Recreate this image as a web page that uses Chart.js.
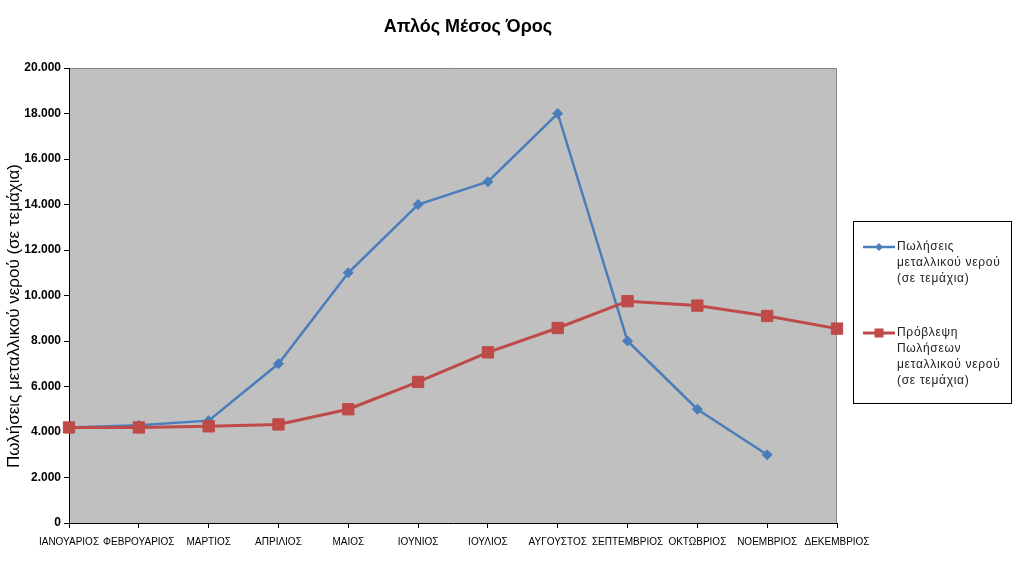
<!DOCTYPE html>
<html lang="el">
<head>
<meta charset="utf-8">
<title>Απλός Μέσος Όρος</title>
<script src="https://cdn.jsdelivr.net/npm/chart.js@4.4.1/dist/chart.umd.min.js"></script>
<style>
  html, body { margin: 0; padding: 0; background: #fff; }
  #wrap { position: relative; width: 1024px; height: 586px; }
</style>
</head>
<body>
<div id="wrap"><canvas id="salesChart" width="1024" height="586"></canvas></div>
<script>
// --- DATA ---
const months = [
  "ΙΑΝΟΥΑΡΙΟΣ", "ΦΕΒΡΟΥΑΡΙΟΣ", "ΜΑΡΤΙΟΣ", "ΑΠΡΙΛΙΟΣ", "ΜΑΙΟΣ", "ΙΟΥΝΙΟΣ",
  "ΙΟΥΛΙΟΣ", "ΑΥΓΟΥΣΤΟΣ", "ΣΕΠΤΕΜΒΡΙΟΣ", "ΟΚΤΩΒΡΙΟΣ", "ΝΟΕΜΒΡΙΟΣ", "ΔΕΚΕΜΒΡΙΟΣ"
];
const salesActual = [4200, 4300, 4500, 7000, 11000, 14000, 15000, 18000, 8000, 5000, 3000, null];
const salesForecast = [4200, 4200, 4250, 4333, 5000, 6200, 7500, 8571, 9750, 9556, 9100, 8545];
const yMin = 0;
const yMax = 20000;
const yStep = 2000;

const chartTitle = "Απλός Μέσος Όρος";
const yAxisTitle = "Πωλήσεις μεταλλικού νερού (σε τεμάχια)";
const legendLines = [
  ["Πωλήσεις", "μεταλλικού νερού", "(σε τεμάχια)"],
  ["Πρόβλεψη", "Πωλήσεων", "μεταλλικού νερού", "(σε τεμάχια)"]
];

const inkBlue = "#4a7ebb";
const inkRed = "#be4b48";
const fontFamily = "Arial, 'Liberation Sans', sans-serif";

// 20000 -> "20.000"
function formatThousands(value) {
  return String(value).replace(/\B(?=(\d{3})+(?!\d))/g, ".");
}

// grey plot area with thin frame on top/right, chart title and rotated y title
const plotFrame = {
  id: "plotFrame",
  beforeDraw(chart) {
    const { ctx, chartArea: a } = chart;
    ctx.save();
    ctx.fillStyle = "#c0c0c0";
    ctx.fillRect(a.left, a.top, a.right - a.left, a.bottom - a.top);
    ctx.strokeStyle = "#868686";
    ctx.lineWidth = 1;
    ctx.beginPath();
    ctx.moveTo(a.left, a.top + 0.5);
    ctx.lineTo(a.right - 0.5, a.top + 0.5);
    ctx.lineTo(a.right - 0.5, a.bottom);
    ctx.stroke();

    ctx.fillStyle = "#000";
    ctx.font = "bold 18px " + fontFamily;
    ctx.textAlign = "center";
    ctx.textBaseline = "middle";
    ctx.fillText(chartTitle, 468, 27);

    // y axis title sits a bit below the middle of the plot, as in the source
    ctx.translate(14, 316);
    ctx.rotate(-Math.PI / 2);
    ctx.font = "17px " + fontFamily;
    ctx.fillText(yAxisTitle, 0, 0);
    ctx.restore();
  }
};

// boxed legend on the right with wrapped labels
const boxLegend = {
  id: "boxLegend",
  afterDraw(chart) {
    const { ctx } = chart;
    const box = { x: 853.5, y: 221.5, w: 158, h: 182 };
    const entryTops = [247, 333];
    const lineGap = 16;

    ctx.save();
    ctx.strokeStyle = "#000";
    ctx.lineWidth = 1;
    ctx.strokeRect(box.x, box.y, box.w, box.h);

    chart.data.datasets.forEach((ds, i) => {
      const y = entryTops[i];
      ctx.strokeStyle = ds.borderColor;
      ctx.lineWidth = ds.borderWidth;
      ctx.beginPath();
      ctx.moveTo(863, y);
      ctx.lineTo(895, y);
      ctx.stroke();

      ctx.fillStyle = ds.pointBackgroundColor;
      ctx.beginPath();
      if (ds.pointStyle === "rectRot") {
        ctx.moveTo(879 - 4, y);
        ctx.lineTo(879, y - 4);
        ctx.lineTo(879 + 4, y);
        ctx.lineTo(879, y + 4);
        ctx.closePath();
      } else {
        ctx.rect(879 - 4.5, y - 4.5, 9, 9);
      }
      ctx.fill();

      ctx.fillStyle = "#222";
      ctx.font = "12px " + fontFamily;
      if ("letterSpacing" in ctx) ctx.letterSpacing = "0.7px";
      ctx.textAlign = "left";
      ctx.textBaseline = "middle";
      legendLines[i].forEach((line, k) => {
        ctx.fillText(line, 897, y + k * lineGap);
      });
    });
    ctx.restore();
  }
};

const ctx = document.getElementById("salesChart");

new Chart(ctx, {
  type: "line",
  data: {
    labels: months,
    datasets: [
      {
        label: legendLines[0].join(" "),
        data: salesActual,
        borderColor: inkBlue,
        backgroundColor: inkBlue,
        pointBackgroundColor: inkBlue,
        pointBorderColor: inkBlue,
        borderWidth: 2.5,
        pointStyle: "rectRot",
        pointRadius: 5,
        pointBorderWidth: 1,
        tension: 0,
        spanGaps: false,
        order: 1
      },
      {
        label: legendLines[1].join(" "),
        data: salesForecast,
        borderColor: inkRed,
        backgroundColor: inkRed,
        pointBackgroundColor: inkRed,
        pointBorderColor: inkRed,
        borderWidth: 3,
        pointStyle: "rect",
        pointRadius: 8,
        pointBorderWidth: 1,
        tension: 0,
        order: 0
      }
    ]
  },
  options: {
    responsive: false,
    animation: false,
    devicePixelRatio: 1,
    layout: { padding: { top: 68, right: 187, left: 0, bottom: 0 } },
    plugins: {
      legend: { display: false },
      title: { display: false },
      tooltip: { enabled: false }
    },
    scales: {
      x: {
        type: "category",
        offset: false,
        grid: { drawOnChartArea: false, drawTicks: true, tickLength: 5, color: "#000" },
        border: { color: "#000", width: 1 },
        ticks: {
          color: "#000",
          autoSkip: false,
          maxRotation: 0,
          minRotation: 0,
          padding: 8,
          font: { family: fontFamily, size: 10 }
        },
        afterFit(scale) { scale.height = 63; }
      },
      y: {
        min: yMin,
        max: yMax,
        grid: { drawOnChartArea: false, drawTicks: true, tickLength: 5, color: "#000" },
        border: { color: "#000", width: 1 },
        ticks: {
          stepSize: yStep,
          color: "#000",
          padding: 3,
          font: { family: fontFamily, size: 12, weight: "bold" },
          callback: (v) => formatThousands(v)
        },
        afterFit(scale) { scale.width = 69; }
      }
    }
  },
  plugins: [plotFrame, boxLegend]
});
</script>
</body>
</html>
